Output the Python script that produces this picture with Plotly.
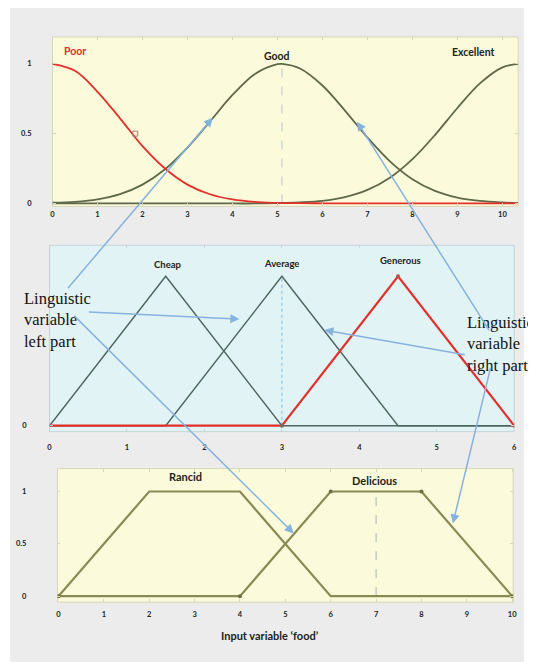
import plotly.graph_objects as go

# the page body keeps its default 8px margin, so the figure is laid out in page pixels minus that
PAGE_OFF = 8
W, H = 528, 656

# ---- panel 1 : gaussian membership functions ----
service_x = [0, 0.5, 1, 1.5, 2, 2.5, 3, 3.5, 4, 4.5, 5, 5.1, 5.5, 6, 6.5, 7, 7.5, 8, 8.5, 9, 9.5, 10, 10.35]
poor = [1.0, 0.95, 0.80, 0.61, 0.41, 0.25, 0.135, 0.066, 0.029, 0.011, 0.004, 0.003,
        0.002, 0.001, 0, 0, 0, 0, 0, 0, 0, 0, 0]
good = [0.005, 0.012, 0.03, 0.067, 0.135, 0.245, 0.40, 0.587, 0.777, 0.928, 0.998, 1.0,
        0.967, 0.845, 0.665, 0.472, 0.302, 0.174, 0.09, 0.042, 0.018, 0.007, 0.003]
excellent = [0, 0, 0, 0, 0, 0, 0, 0, 0, 0, 0.003, 0.004,
             0.008, 0.019, 0.046, 0.097, 0.184, 0.317, 0.49, 0.684, 0.86, 0.975, 1.0]
service_ticks = [0, 1, 2, 3, 4, 5, 6, 7, 8, 9, 10]
poor_mark_x, poor_mark_y = [1.84], [0.5]
good_peak = 5.1

# ---- panel 2 : triangular membership functions ----
tip_x = [0, 1.5, 3, 4.5, 6]
cheap = [0, 1, 0, 0, 0]
average = [0, 0, 1, 0, 0]
generous = [0, 0, 0, 1, 0]
tip_ticks = [0, 1, 2, 3, 4, 5, 6]
tip_mark_x, tip_mark_y = [3, 4.5, 6], [0, 1, 0]
average_peak = 3

# ---- panel 3 : trapezoidal membership functions, input 'food' ----
food_x = [0, 2, 4, 6, 8, 10]
rancid = [0, 1, 1, 0, 0, 0]
delicious = [0, 0, 0, 1, 1, 0]
food_ticks = [0, 1, 2, 3, 4, 5, 6, 7, 8, 9, 10]
food_mark_x, food_mark_y = [0, 4, 6, 8, 10], [0, 0, 1, 1, 0]
food_value = 7

y_ticks = [0, 0.5, 1]
y_ticktext = ['0', '0.5', '1']
tip_y_ticks = [0]          # the other two are hidden under the left text
tip_y_ticktext = ['0']

# --- style ---
SANS = "Lato, 'Open Sans', Arial, sans-serif"
SERIF = "'Liberation Serif', 'Times New Roman', serif"
RED = '#e3302b'
OLIVE = '#60684a'
TEAL = '#4d6660'
KHAKI = '#8a8a55'
ARROW = '#86b2df'

# panel boxes in page pixels: (left, right), (top, bottom)
PANELS = [
    dict(x=(51, 522), y=(37, 207), xr=[0, 10.35], yr=[-0.021, 1.193], bg='#fbfbdc',
         edge='#d6d6b8', ticks=service_ticks, yt=(y_ticks, y_ticktext), xstand=2, ystand=20),
    dict(x=(48, 518), y=(246, 433), xr=[0, 6], yr=[-0.04, 1.207], bg='#e2f3f5',
         edge='#c3d3d6', ticks=tip_ticks, yt=(tip_y_ticks, tip_y_ticktext), xstand=10, ystand=22),
    dict(x=(56, 517), y=(470, 604), xr=[-0.022, 10.022], yr=[-0.057, 1.219], bg='#fbfbdc',
         edge='#d6d6b8', ticks=food_ticks, yt=(y_ticks, y_ticktext), xstand=6, ystand=30),
]


def to_paper(px, py):
    return (px - PAGE_OFF) / W, 1 - (py - PAGE_OFF) / H


fig = go.Figure()

# panel 1
fig.add_trace(go.Scatter(x=[good_peak, good_peak], y=[0, 1], mode='lines',
                         line=dict(color='#b9c8d0', width=1, dash='dash'), xaxis='x', yaxis='y'))
for ys, col in [(good, OLIVE), (excellent, OLIVE), (poor, RED)]:
    fig.add_trace(go.Scatter(x=service_x, y=ys, mode='lines', line=dict(color=col, width=1.8, shape='spline'),
                             xaxis='x', yaxis='y', hoverinfo='skip'))
fig.add_trace(go.Scatter(x=poor_mark_x, y=poor_mark_y, mode='markers',
                         marker=dict(symbol='square-open', size=5, color='#b07a70'), xaxis='x', yaxis='y'))

# panel 2
fig.add_trace(go.Scatter(x=[average_peak, average_peak], y=[0, 1], mode='lines',
                         line=dict(color='#8fc3e0', width=1.2, dash='dot'), xaxis='x2', yaxis='y2'))
for ys, col, w in [(cheap, TEAL, 1.4), (average, TEAL, 1.4), (generous, RED, 2.2)]:
    fig.add_trace(go.Scatter(x=tip_x, y=ys, mode='lines', line=dict(color=col, width=w),
                             xaxis='x2', yaxis='y2', hoverinfo='skip'))
fig.add_trace(go.Scatter(x=tip_mark_x, y=tip_mark_y, mode='markers',
                         marker=dict(size=4, color=['#7a6a66', '#b5524c', '#b5524c']), xaxis='x2', yaxis='y2'))

# panel 3
fig.add_trace(go.Scatter(x=[food_value, food_value], y=[0, 1], mode='lines',
                         line=dict(color='#a6b4b8', width=1, dash='dash'), xaxis='x3', yaxis='y3'))
for ys in [rancid, delicious]:
    fig.add_trace(go.Scatter(x=food_x, y=ys, mode='lines', line=dict(color=KHAKI, width=2.2),
                             xaxis='x3', yaxis='y3', hoverinfo='skip'))
fig.add_trace(go.Scatter(x=food_mark_x, y=food_mark_y, mode='markers',
                         marker=dict(size=4, color='#6e6e40'), xaxis='x3', yaxis='y3'))

# grey sheet behind everything, then panel backgrounds
gx0, gy0 = to_paper(8, 8)
gx1, gy1 = to_paper(528, 664)
shapes = [dict(type='rect', xref='paper', yref='paper', x0=gx0, x1=gx1, y0=gy1, y1=gy0,
               fillcolor='#ececec', line_width=0, layer='below')]
axes = {}
tick_font = dict(family=SANS, size=7.5, color='#222222', weight='bold')
for n, p in enumerate(PANELS, start=1):
    sfx = '' if n == 1 else str(n)
    x0, y0 = to_paper(p['x'][0], p['y'][0])
    x1, y1 = to_paper(p['x'][1], p['y'][1])
    axes['xaxis' + sfx] = dict(
        domain=[x0, x1], range=p['xr'], anchor='y' + sfx,
        tickvals=p['ticks'], ticktext=[str(t) for t in p['ticks']], tickfont=tick_font,
        ticks='inside', ticklen=3, tickcolor=p['edge'], mirror='ticks',
        showgrid=False, zeroline=False, showline=False, ticklabelstandoff=p['xstand'])
    axes['yaxis' + sfx] = dict(
        domain=[y1, y0], range=p['yr'], anchor='x' + sfx,
        tickvals=p['yt'][0], ticktext=p['yt'][1], tickfont=tick_font,
        ticks='inside', ticklen=3, tickcolor=p['edge'], mirror='ticks',
        showgrid=False, zeroline=False, showline=False, ticklabelstandoff=p['ystand'])
    shapes.append(dict(type='rect', xref=f'x{sfx} domain', yref=f'y{sfx} domain', x0=0, x1=1, y0=0, y1=1,
                       fillcolor=p['bg'], line=dict(color=p['edge'], width=1), layer='below'))

# membership-function names
names = [
    ('Poor', 'x', 'y', 0.5, 1.09, RED, 10.5),
    ('Good', 'x', 'y', 4.99, 1.057, '#222222', 10.5),
    ('Excellent', 'x', 'y', 9.36, 1.087, '#222222', 10.5),
    ('Cheap', 'x2', 'y2', 1.53, 1.08, '#222222', 9.5),
    ('Average', 'x2', 'y2', 3.0, 1.087, '#222222', 9.5),
    ('Generous', 'x2', 'y2', 4.53, 1.103, '#222222', 9.5),
    ('Rancid', 'x3', 'y3', 2.8, 1.143, '#222222', 11),
    ('Delicious', 'x3', 'y3', 6.97, 1.105, '#222222', 11),
]
annotations = []
for txt, xr, yr, x, y, col, size in names:
    annotations.append(dict(text=f'<b>{txt}</b>', xref=xr, yref=yr, x=x, y=y, showarrow=False,
                            font=dict(family=SANS, size=size, color=col)))

# explanatory text
lx, ly = to_paper(20, 321)
annotations.append(dict(text='Linguistic<br>variable<br>left part', xref='paper', yref='paper', x=lx, y=ly,
                        xanchor='left', yanchor='middle', align='left', showarrow=False,
                        font=dict(family=SERIF, size=16.5, color='#111111')))
rx, ry = to_paper(468, 345)
annotations.append(dict(text='Linguistic<br>variable<br>right part', xref='paper', yref='paper', x=rx, y=ry,
                        xanchor='left', yanchor='middle', align='left', showarrow=False,
                        font=dict(family=SERIF, size=16.5, color='#111111')))
bx, by = to_paper(271, 646)
annotations.append(dict(text="<b>Input variable ‘food’</b>", xref='paper', yref='paper', x=bx, y=by,
                        showarrow=False, font=dict(family=SANS, size=11, color='#222222')))

# arrows (tail px, tail py, head px, head py)
arrows = [
    (67, 290, 213, 118),
    (88, 313, 240, 320),
    (74, 316, 295, 535),
    (468, 356, 326, 331),
    (492, 332, 359, 122),
    (494, 368, 456, 525),
]
for tx, ty, hx, hy in arrows:
    x, y = to_paper(hx, hy)
    annotations.append(dict(text='', xref='paper', yref='paper', x=x, y=y, ax=tx - hx, ay=ty - hy,
                            axref='pixel', ayref='pixel', showarrow=True, arrowhead=2, arrowsize=1.2,
                            arrowwidth=1.5, arrowcolor=ARROW, standoff=0))

fig.update_layout(
    width=W, height=H, margin=dict(l=0, r=0, t=0, b=0),
    paper_bgcolor='white', plot_bgcolor='rgba(0,0,0,0)',
    showlegend=False, shapes=shapes, annotations=annotations, **axes,
)

fig.write_html("out.html")
